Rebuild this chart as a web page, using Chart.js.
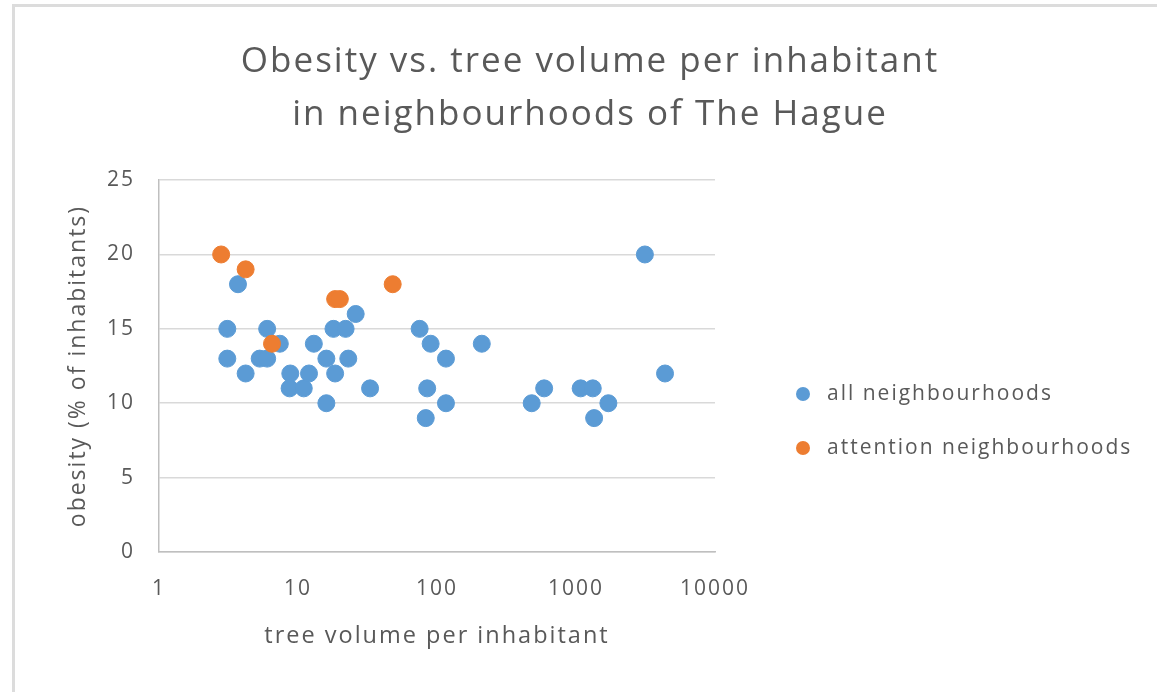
<!DOCTYPE html>
<html>
<head>
<meta charset="utf-8">
<script src="https://cdn.jsdelivr.net/npm/chart.js@4/dist/chart.umd.min.js"></script>
<style>
  html, body { margin: 0; padding: 0; background: #fff; }
  #wrap { position: relative; width: 1157px; height: 692px; overflow: hidden; }
  #frame {
    position: absolute; left: 12px; top: 4px; width: 1200px; height: 720px;
    border-left: 3px solid #dcdcdc; border-top: 3px solid #dcdcdc;
  }
  #chart { position: absolute; left: 0; top: 0; }
  .legend { position: absolute; left: 796px; font-family: "Open Sans", sans-serif; font-size: 21px; color: #595959; letter-spacing: 2px; }
  .legend .item { position: absolute; white-space: nowrap; line-height: 24px; }
  .legend .dot { display: inline-block; width: 14px; height: 14px; border-radius: 50%; margin-right: 17px; vertical-align: -1px; }
</style>
</head>
<body>
<div id="wrap">
  <div id="frame"></div>
  <canvas id="chart" width="1157" height="692"></canvas>
  <div class="legend" id="legend"></div>
</div>
<script>
// -------------------- DATA --------------------
const allTreeVolume = [3.7, 3.1, 6.0, 7.4, 3.1, 4.2, 5.3, 6.0, 8.8, 8.7, 11, 12, 13, 16, 16, 18, 22, 18.5, 23, 26, 33,
  75, 90, 116, 85, 116, 83, 210, 480, 590, 1080, 1320, 1350, 1710, 3130, 4370];
const allObesity = [18, 15, 15, 14, 13, 12, 13, 13, 12, 11, 11, 12, 14, 13, 10, 15, 15, 12, 13, 16, 11,
  15, 14, 13, 11, 10, 9, 14, 10, 11, 11, 11, 9, 10, 20, 12];

const attentionTreeVolume = [2.8, 4.2, 48, 18.5, 20, 6.5];
const attentionObesity = [20, 19, 18, 17, 17, 14];

const xTickValues = [1, 10, 100, 1000, 10000];
const seriesNames = ["all neighbourhoods", "attention neighbourhoods"];
const seriesColors = ["#5b9bd5", "#ed7d31"];

const textColor = "#595959";
const fontFamily = "'Open Sans', sans-serif";

function toPoints(xs, ys) {
  return xs.map((x, i) => ({ x: x, y: ys[i] }));
}

// wider text spacing, the original font runs wide
const spacingPlugin = {
  id: "spacing",
  beforeDraw(chart) {
    chart.ctx.letterSpacing = "2px";
  }
};

// -------------------- CHART --------------------
const ctx = document.getElementById("chart");

new Chart(ctx, {
  type: "scatter",
  data: {
    datasets: [
      {
        label: seriesNames[0],
        data: toPoints(allTreeVolume, allObesity),
        backgroundColor: seriesColors[0],
        borderColor: seriesColors[0],
        pointRadius: 8.5,
        borderWidth: 1,
        order: 2
      },
      {
        label: seriesNames[1],
        data: toPoints(attentionTreeVolume, attentionObesity),
        backgroundColor: seriesColors[1],
        borderColor: seriesColors[1],
        pointRadius: 8.5,
        borderWidth: 1,
        order: 1
      }
    ]
  },
  plugins: [spacingPlugin],
  options: {
    responsive: false,
    animation: false,
    layout: { padding: { left: 23, right: 0, top: 0, bottom: 0 } },
    plugins: {
      legend: { display: false },
      tooltip: { enabled: false },
      title: {
        display: true,
        text: ["Obesity vs. tree volume per inhabitant", "in neighbourhoods of The Hague"],
        color: textColor,
        font: { family: fontFamily, size: 35, weight: "normal", lineHeight: 1.53 },
        padding: { top: 35, bottom: 38 }
      }
    },
    scales: {
      x: {
        type: "logarithmic",
        min: 1,
        max: 10000,
        afterBuildTicks: (scale) => {
          scale.ticks = xTickValues.map((v) => ({ value: v }));
        },
        afterFit: (scale) => { scale.height = 140; },
        ticks: {
          color: textColor,
          font: { family: fontFamily, size: 21 },
          padding: 24,
          maxRotation: 0,
          callback: (value) => String(value)
        },
        grid: { display: false, drawTicks: false },
        border: { display: true, color: "#bfbfbf", width: 1.5 },
        title: {
          display: true,
          text: "tree volume per inhabitant",
          color: textColor,
          font: { family: fontFamily, size: 23.5 },
          padding: { top: 0, bottom: 42 }
        }
      },
      y: {
        min: 0,
        max: 25,
        afterFit: (scale) => { scale.width = 136; },
        ticks: {
          stepSize: 5,
          color: textColor,
          font: { family: fontFamily, size: 21 },
          padding: 24
        },
        grid: { color: "#d9d9d9", lineWidth: 1.5, drawTicks: false },
        border: { display: true, color: "#bfbfbf", width: 1.5 },
        title: {
          display: true,
          text: "obesity (% of inhabitants)",
          color: textColor,
          font: { family: fontFamily, size: 23 },
          padding: { top: 42, bottom: 0 }
        }
      },
      // empty box on the right, room for the legend
      side: {
        position: "right",
        afterFit: (scale) => { scale.width = 442; },
        ticks: { display: false },
        grid: { display: false, drawTicks: false },
        border: { display: false }
      }
    }
  }
});

// -------------------- LEGEND --------------------
const legendEl = document.getElementById("legend");
const legendTops = [380, 434];
legendEl.innerHTML = seriesNames.map((name, i) => `
  <div class="item" style="top:${legendTops[i]}px">
    <span class="dot" style="background:${seriesColors[i]}"></span>${name}
  </div>
`).join("");
</script>
</body>
</html>
